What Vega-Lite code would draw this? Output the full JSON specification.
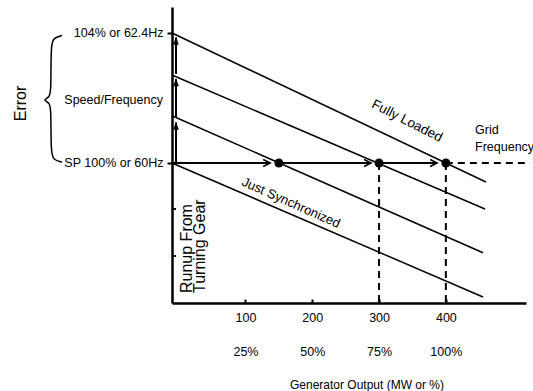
{
  "$schema": "https://vega.github.io/schema/vega-lite/v6.json",
  "autosize": {"type": "none"},
  "width": 354,
  "height": 296,
  "padding": {"left": 172, "top": 7, "right": 7, "bottom": 88},
  "background": "white",
  "config": {
    "view": {"stroke": null},
    "font": "Liberation Sans",
    "axis": {"grid": false, "domainColor": "black", "tickColor": "black", "labelColor": "black", "titleColor": "black", "labelFont": "Liberation Sans", "titleFont": "Liberation Sans", "titleFontWeight": "normal"}
  },
  "datasets": {
    "lines": [
      {"series": "L1", "x": -10, "y": 104},
      {"series": "L1", "x": 460, "y": 99.415},
      {"series": "L2", "x": -10, "y": 102.708},
      {"series": "L2", "x": 458.6, "y": 98.585},
      {"series": "L3", "x": -10, "y": 101.455},
      {"series": "L3", "x": 455.6, "y": 97.24},
      {"series": "L4", "x": -10, "y": 100},
      {"series": "L4", "x": 455.6, "y": 95.877}
    ],
    "hsegs": [
      {"x": -10, "x2": 137, "y": 100, "y2": 100},
      {"x": 150, "x2": 288, "y": 100, "y2": 100},
      {"x": 300, "x2": 387, "y": 100, "y2": 100}
    ],
    "vsegs": [
      {"x": -4, "x2": -4, "y": 100, "y2": 101.25},
      {"x": -4, "x2": -4, "y": 101.4, "y2": 102.58},
      {"x": -4, "x2": -4, "y": 102.74, "y2": 103.86}
    ],
    "dashes": [
      {"x": 400, "x2": 526, "y": 100, "y2": 100},
      {"x": 300, "x2": 300, "y": 100, "y2": 95.692},
      {"x": 400, "x2": 400, "y": 100, "y2": 95.692}
    ],
    "harrows": [
      {"x": 137, "y": 100},
      {"x": 288, "y": 100},
      {"x": 387, "y": 100}
    ],
    "varrows": [
      {"x": -4, "y": 101.27},
      {"x": -4, "y": 102.606},
      {"x": -4, "y": 103.886}
    ],
    "dots": [
      {"x": 150, "y": 100},
      {"x": 300, "y": 100},
      {"x": 400, "y": 100}
    ],
    "innerTicks": [
      {"x": -10, "x2": -4, "y": 98.585, "y2": 98.585},
      {"x": -10, "x2": -4, "y": 97.138, "y2": 97.138}
    ],
    "brace": [
      {"o": 1, "x": -174.7, "y": 103.92},
      {"o": 2, "x": -188, "y": 103.85},
      {"o": 3, "x": -191.2, "y": 103.6},
      {"o": 4, "x": -191.2, "y": 102.3},
      {"o": 5, "x": -192.5, "y": 102.02},
      {"o": 6, "x": -204, "y": 101.94},
      {"o": 7, "x": -192.5, "y": 101.86},
      {"o": 8, "x": -191.2, "y": 101.58},
      {"o": 9, "x": -191.2, "y": 100.34},
      {"o": 10, "x": -188, "y": 100.09},
      {"o": 11, "x": -174.7, "y": 100.03}
    ],
    "slopeLabel1": [{"text": "Fully Loaded", "x": 341.8, "y": 101.29}],
    "slopeLabel2": [{"text": "Just Synchronized", "x": 168.2, "y": 98.77}],
    "gridLabel": [
      {"text": "Grid", "x": 443.7, "y": 101.0},
      {"text": "Frequency", "x": 443.7, "y": 100.49}
    ],
    "speedLabel": [{"text": "Speed/Frequency", "x": -23.5, "y": 101.94}],
    "runupLabel": [
      {"text": "Runup From", "x": 12.5, "y": 96.0},
      {"text": "Turning Gear", "x": 31.9, "y": 96.0}
    ]
  },
  "encoding": {
    "x": {
      "field": "x", "type": "quantitative",
      "scale": {"domain": [-10, 520], "nice": false, "zero": false},
      "axis": {
        "values": [100, 200, 300, 400],
        "labelExpr": "[datum.label, format(datum.value/4, 'd') + '%']",
        "labelLineHeight": 34,
        "labelFontSize": 12.5,
        "tickSize": -4,
        "tickWidth": 2,
        "domainWidth": 2.5,
        "labelPadding": 12,
        "title": "Generator Output (MW or %)",
        "titleFontSize": 12,
        "titleX": 194.5,
        "titleY": 81.5,
        "titleAlign": "center",
        "titleBaseline": "middle"
      }
    },
    "y": {
      "field": "y", "type": "quantitative",
      "scale": {"domain": [95.692, 104.8], "nice": false, "zero": false},
      "axis": {
        "values": [100, 104],
        "labelExpr": "datum.value == 104 ? '104% or 62.4Hz' : 'SP 100% or 60Hz'",
        "labelFontSize": 12.5,
        "tickSize": 5,
        "tickWidth": 2,
        "domainWidth": 2.5,
        "labelPadding": 4,
        "title": "Error",
        "titleFontSize": 16,
        "titleAngle": 270,
        "titleX": -152,
        "titleY": 96,
        "titleAlign": "center",
        "titleBaseline": "middle"
      }
    }
  },
  "layer": [
    {
      "data": {"name": "lines"},
      "mark": {"type": "line", "color": "black", "strokeWidth": 1.5},
      "encoding": {"detail": {"field": "series"}}
    },
    {
      "data": {"name": "hsegs"},
      "mark": {"type": "rule", "color": "black", "strokeWidth": 2},
      "encoding": {"x2": {"field": "x2"}, "y2": {"field": "y2"}}
    },
    {
      "data": {"name": "vsegs"},
      "mark": {"type": "rule", "color": "black", "strokeWidth": 2},
      "encoding": {"x2": {"field": "x2"}, "y2": {"field": "y2"}}
    },
    {
      "data": {"name": "dashes"},
      "mark": {"type": "rule", "color": "black", "strokeWidth": 2, "strokeDash": [7, 5]},
      "encoding": {"x2": {"field": "x2"}, "y2": {"field": "y2"}}
    },
    {
      "data": {"name": "innerTicks"},
      "mark": {"type": "rule", "color": "black", "strokeWidth": 2},
      "encoding": {"x2": {"field": "x2"}, "y2": {"field": "y2"}}
    },
    {
      "data": {"name": "harrows"},
      "mark": {"type": "point", "shape": "M-1,-0.5L0,0L-1,0.5", "filled": false, "stroke": "black", "strokeWidth": 1.5, "size": 196, "opacity": 1}
    },
    {
      "data": {"name": "varrows"},
      "mark": {"type": "point", "shape": "M0,0L0.35,1L-0.35,1Z", "filled": true, "color": "black", "size": 256, "opacity": 1}
    },
    {
      "data": {"name": "dots"},
      "mark": {"type": "circle", "color": "black", "size": 80, "opacity": 1}
    },
    {
      "data": {"name": "brace"},
      "mark": {"type": "line", "color": "black", "strokeWidth": 1.5, "interpolate": "basis"},
      "encoding": {"order": {"field": "o"}}
    },
    {
      "data": {"name": "slopeLabel1"},
      "mark": {"type": "text", "angle": 27, "fontSize": 13.5, "align": "center", "baseline": "middle", "color": "black"},
      "encoding": {"text": {"field": "text"}}
    },
    {
      "data": {"name": "slopeLabel2"},
      "mark": {"type": "text", "angle": 24, "fontSize": 13, "align": "center", "baseline": "middle", "color": "black"},
      "encoding": {"text": {"field": "text"}}
    },
    {
      "data": {"name": "gridLabel"},
      "mark": {"type": "text", "fontSize": 12.5, "align": "left", "baseline": "middle", "color": "black"},
      "encoding": {"text": {"field": "text"}}
    },
    {
      "data": {"name": "speedLabel"},
      "mark": {"type": "text", "fontSize": 12.5, "align": "right", "baseline": "middle", "color": "black"},
      "encoding": {"text": {"field": "text"}}
    },
    {
      "data": {"name": "runupLabel"},
      "mark": {"type": "text", "angle": 270, "fontSize": 16, "align": "left", "baseline": "middle", "color": "black"},
      "encoding": {"text": {"field": "text"}}
    }
  ]
}
